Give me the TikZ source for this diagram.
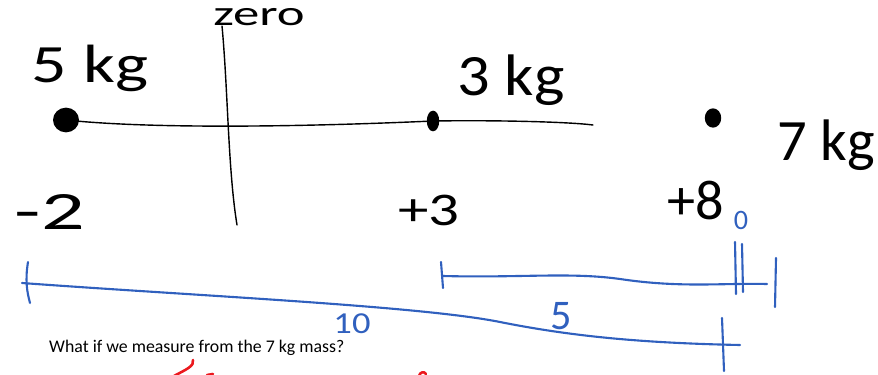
\documentclass[tikz,border=0pt]{standalone}
\usepackage{fontspec}
\setmainfont{Carlito}
\usetikzlibrary{positioning}
\definecolor{penblue}{RGB}{48,96,190}
\definecolor{penred}{RGB}{235,25,30}

\begin{document}
\begin{tikzpicture}[
    x=0.03cm, y=-0.03cm,
    ink/.style={line width=1.2pt,line cap=round},
    blueink/.style={draw=penblue,line width=1.8pt,line cap=round},
    redink/.style={draw=penred,line width=2.2pt,line cap=round},
    hand/.style={inner sep=0pt,anchor=center},
    bhand/.style={hand,text=penblue}
]
\useasboundingbox (0,0) rectangle (878,375);

% masses
\node[fill=black,circle,inner sep=0pt,minimum size=0.78cm,yscale=0.95] (m5) at (66,120) {};
\node[fill=black,circle,inner sep=0pt,minimum size=0.62cm,xscale=0.6] (m3) at (433,121) {};
\node[fill=black,circle,inner sep=0pt,minimum size=0.58cm,xscale=0.85] (m7) at (713,118) {};
\coordinate (axisR) at (593,125);
\coordinate (ztop) at (222,26);
\coordinate (zbot) at (237,225);

% axis and zero line
\draw[ink] (m5.center) .. controls (150,129) and (300,127) .. (m3.center)
    .. controls (500,120) and (570,122) .. (axisR);
\draw[ink] (ztop) .. controls (228,90) and (228,170) .. (zbot);

% labels
\node[hand,font=\fontsize{30}{30}\selectfont,xscale=1.5] (lblzero) at (259,17) {zero};
\node[hand,font=\fontsize{46}{46}\selectfont,xscale=1.3] (lbl5kg) at (90,68) {5 kg};
\node[hand,font=\fontsize{50}{50}\selectfont,xscale=1.1] (lbl3kg) at (511,80) {3 kg};
\node[hand,font=\fontsize{50}{50}\selectfont] (lbl7kg) at (826,145) {7 kg};
\node[hand,font=\fontsize{46}{46}\selectfont,xscale=1.6] (lblm2) at (50,212) {-2};
\node[hand,font=\fontsize{40}{40}\selectfont,xscale=1.3] (lblp3) at (429,210) {+3};
\node[hand,font=\fontsize{48}{48}\selectfont] (lblp8) at (696,200) {+8};

% blue distances
\coordinate (a1) at (22,283);
\coordinate (a2) at (740,345);
\coordinate (t1a) at (28,262);
\coordinate (t1b) at (30,303);
\coordinate (t2a) at (722,318);
\coordinate (t2b) at (724,371);
\coordinate (b1) at (443,276);
\coordinate (b2) at (767,284);
\coordinate (t3a) at (441,262);
\coordinate (t3b) at (443,288);
\coordinate (t4a) at (776,258);
\coordinate (t4b) at (775,307);
\coordinate (d1a) at (735,242);
\coordinate (d1b) at (736,294);
\coordinate (d2a) at (742,244);
\coordinate (d2b) at (743,292);

\draw[blueink] (a1) .. controls (200,296) and (420,306) .. (500,322)
    .. controls (570,336) and (640,343) .. (a2);
\draw[blueink] (t1a) .. controls (25,280) and (27,292) .. (t1b);
\draw[blueink] (t2a) -- (t2b);
\draw[blueink] (b1) .. controls (520,278) and (570,272) .. (620,279)
    .. controls (680,288) and (720,283) .. (b2);
\draw[blueink] (t3a) -- (t3b);
\draw[blueink] (t4a) -- (t4b);
\draw[blueink] (d1a) -- (d1b);
\draw[blueink] (d2a) -- (d2b);

\node[bhand,font=\fontsize{26}{26}\selectfont,xscale=1.2] (lbl10) at (352,324) {10};
\node[bhand,font=\fontsize{36}{36}\selectfont] (lbl5) at (561,316) {5};
\node[bhand,font=\fontsize{24}{24}\selectfont] (lbl0) at (741,220) {0};

% question
\node[hand,anchor=west,font=\fontsize{15.2}{15.2}\selectfont] (question) at (49,348)
    {What if we measure from the 7 kg mass?};

% red marks
\coordinate (r1a) at (193,360);
\coordinate (r1b) at (174,376);
\coordinate (r2a) at (207,375);
\coordinate (r2b) at (213,374);
\coordinate (r3a) at (419,376);
\coordinate (r3b) at (426,374);
\draw[redink] (r1a) .. controls (195,366) and (185,370) .. (r1b);
\draw[redink] (r2a) -- (r2b);
\draw[redink] (r3a) .. controls (420,372) and (424,371) .. (r3b);
\end{tikzpicture}
\end{document}
